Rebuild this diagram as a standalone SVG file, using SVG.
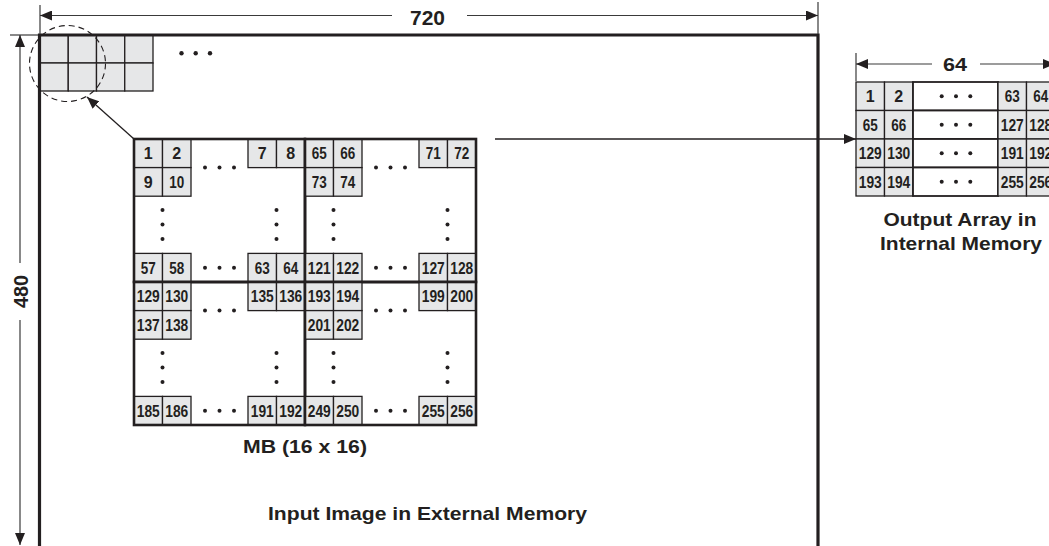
<svg xmlns="http://www.w3.org/2000/svg" xmlns:xlink="http://www.w3.org/1999/xlink" width="1049" height="546" viewBox="0 0 1049 546">
<style>
.c{fill:#e6e7e8;stroke:#231f20;stroke-width:1.3}
.w{fill:#ffffff;stroke:#231f20;stroke-width:1.8}
.q{fill:none;stroke:#231f20;stroke-width:2.6}
.frame{fill:none;stroke:#231f20;stroke-width:3.2}
.dim{fill:none;stroke:#3a3a3a;stroke-width:1.2}
.ln{fill:none;stroke:#231f20;stroke-width:1.3}
.d{fill:#231f20}
.n{font-family:"Liberation Sans",Arial,sans-serif;font-weight:bold;font-size:16px;fill:#231f20;text-anchor:middle}
.lbl{font-family:"Liberation Sans",Arial,sans-serif;font-weight:bold;font-size:19px;fill:#231f20;text-anchor:middle}
</style>
<defs>
<marker id="ah" viewBox="0 0 12 10" refX="12" refY="5" markerWidth="12" markerHeight="10" markerUnits="userSpaceOnUse" orient="auto">
<path d="M0,0 L12,5 L0,10 Z" fill="#231f20"/>
</marker>
<g id="qcells">
<rect class="c" x="0" y="0" width="28.5" height="28.6"/>
<rect class="c" x="28.5" y="0" width="28.5" height="28.6"/>
<rect class="c" x="114" y="0" width="28.5" height="28.6"/>
<rect class="c" x="142.5" y="0" width="28.5" height="28.6"/>
<rect class="c" x="0" y="28.6" width="28.5" height="28.6"/>
<rect class="c" x="28.5" y="28.6" width="28.5" height="28.6"/>
<rect class="c" x="0" y="114.4" width="28.5" height="28.6"/>
<rect class="c" x="28.5" y="114.4" width="28.5" height="28.6"/>
<rect class="c" x="114" y="114.4" width="28.5" height="28.6"/>
<rect class="c" x="142.5" y="114.4" width="28.5" height="28.6"/>
<rect class="q" x="0" y="0" width="171" height="143"/>
<circle class="d" cx="71" cy="28.6" r="2"/><circle class="d" cx="85.5" cy="28.6" r="2"/><circle class="d" cx="100" cy="28.6" r="2"/>
<circle class="d" cx="71" cy="128.7" r="2"/><circle class="d" cx="85.5" cy="128.7" r="2"/><circle class="d" cx="100" cy="128.7" r="2"/>
<circle class="d" cx="28.5" cy="71" r="2"/><circle class="d" cx="28.5" cy="85.5" r="2"/><circle class="d" cx="28.5" cy="100" r="2"/>
<circle class="d" cx="142.5" cy="71" r="2"/><circle class="d" cx="142.5" cy="85.5" r="2"/><circle class="d" cx="142.5" cy="100" r="2"/>
</g>
</defs>

<g id="input-image">
<rect class="c" x="40" y="35" width="28.25" height="28"/>
<rect class="c" x="68.25" y="35" width="28.25" height="28"/>
<rect class="c" x="96.5" y="35" width="28.25" height="28"/>
<rect class="c" x="124.75" y="35" width="28.25" height="28"/>
<rect class="c" x="40" y="63" width="28.25" height="28"/>
<rect class="c" x="68.25" y="63" width="28.25" height="28"/>
<rect class="c" x="96.5" y="63" width="28.25" height="28"/>
<rect class="c" x="124.75" y="63" width="28.25" height="28"/>
<path class="frame" d="M39.5,550 V35 H818 V550"/>
<circle class="d" cx="181.5" cy="53.3" r="2.2"/><circle class="d" cx="195.7" cy="53.3" r="2.2"/><circle class="d" cx="210" cy="53.3" r="2.2"/>
<circle cx="67.5" cy="63.5" r="38" fill="none" stroke="#231f20" stroke-width="1.1" stroke-dasharray="6,4"/>
<text class="lbl" x="427.5" y="520" textLength="319" lengthAdjust="spacingAndGlyphs">Input Image in External Memory</text>
</g>

<g id="mb">
<use xlink:href="#qcells" href="#qcells" transform="translate(134,139)"/>
<use xlink:href="#qcells" href="#qcells" transform="translate(305,139)"/>
<use xlink:href="#qcells" href="#qcells" transform="translate(134,282)"/>
<use xlink:href="#qcells" href="#qcells" transform="translate(305,282)"/>
<g class="n">
<text x="148.25" y="159">1</text><text x="176.75" y="159">2</text>
<text x="262.25" y="159">7</text><text x="290.75" y="159">8</text>
<text x="148.25" y="187.7">9</text><text x="176.75" y="187.7" textLength="15" lengthAdjust="spacingAndGlyphs">10</text>
<text x="148.25" y="273.5" textLength="15" lengthAdjust="spacingAndGlyphs">57</text><text x="176.75" y="273.5" textLength="15" lengthAdjust="spacingAndGlyphs">58</text>
<text x="262.25" y="273.5" textLength="15" lengthAdjust="spacingAndGlyphs">63</text><text x="290.75" y="273.5" textLength="15" lengthAdjust="spacingAndGlyphs">64</text>

<text x="319.25" y="159" textLength="15" lengthAdjust="spacingAndGlyphs">65</text><text x="347.75" y="159" textLength="15" lengthAdjust="spacingAndGlyphs">66</text>
<text x="433.25" y="159" textLength="15" lengthAdjust="spacingAndGlyphs">71</text><text x="461.75" y="159" textLength="15" lengthAdjust="spacingAndGlyphs">72</text>
<text x="319.25" y="187.7" textLength="15" lengthAdjust="spacingAndGlyphs">73</text><text x="347.75" y="187.7" textLength="15" lengthAdjust="spacingAndGlyphs">74</text>
<text x="319.25" y="273.5" textLength="23" lengthAdjust="spacingAndGlyphs">121</text><text x="347.75" y="273.5" textLength="23" lengthAdjust="spacingAndGlyphs">122</text>
<text x="433.25" y="273.5" textLength="23" lengthAdjust="spacingAndGlyphs">127</text><text x="461.75" y="273.5" textLength="23" lengthAdjust="spacingAndGlyphs">128</text>

<text x="148.25" y="302.1" textLength="23" lengthAdjust="spacingAndGlyphs">129</text><text x="176.75" y="302.1" textLength="23" lengthAdjust="spacingAndGlyphs">130</text>
<text x="262.25" y="302.1" textLength="23" lengthAdjust="spacingAndGlyphs">135</text><text x="290.75" y="302.1" textLength="23" lengthAdjust="spacingAndGlyphs">136</text>
<text x="148.25" y="330.7" textLength="23" lengthAdjust="spacingAndGlyphs">137</text><text x="176.75" y="330.7" textLength="23" lengthAdjust="spacingAndGlyphs">138</text>
<text x="148.25" y="416.5" textLength="23" lengthAdjust="spacingAndGlyphs">185</text><text x="176.75" y="416.5" textLength="23" lengthAdjust="spacingAndGlyphs">186</text>
<text x="262.25" y="416.5" textLength="23" lengthAdjust="spacingAndGlyphs">191</text><text x="290.75" y="416.5" textLength="23" lengthAdjust="spacingAndGlyphs">192</text>

<text x="319.25" y="302.1" textLength="23" lengthAdjust="spacingAndGlyphs">193</text><text x="347.75" y="302.1" textLength="23" lengthAdjust="spacingAndGlyphs">194</text>
<text x="433.25" y="302.1" textLength="23" lengthAdjust="spacingAndGlyphs">199</text><text x="461.75" y="302.1" textLength="23" lengthAdjust="spacingAndGlyphs">200</text>
<text x="319.25" y="330.7" textLength="23" lengthAdjust="spacingAndGlyphs">201</text><text x="347.75" y="330.7" textLength="23" lengthAdjust="spacingAndGlyphs">202</text>
<text x="319.25" y="416.5" textLength="23" lengthAdjust="spacingAndGlyphs">249</text><text x="347.75" y="416.5" textLength="23" lengthAdjust="spacingAndGlyphs">250</text>
<text x="433.25" y="416.5" textLength="23" lengthAdjust="spacingAndGlyphs">255</text><text x="461.75" y="416.5" textLength="23" lengthAdjust="spacingAndGlyphs">256</text>
</g>
<text class="lbl" x="305" y="452.5" textLength="124" lengthAdjust="spacingAndGlyphs">MB (16 x 16)</text>
</g>

<g id="output-array">
<rect class="c" x="856" y="82" width="28.5" height="28.5"/><rect class="c" x="884.5" y="82" width="28.5" height="28.5"/>
<rect class="w" x="913" y="82" width="85" height="28.5"/>
<rect class="c" x="998" y="82" width="28.5" height="28.5"/><rect class="c" x="1026.5" y="82" width="28.5" height="28.5"/>
<rect class="c" x="856" y="110.5" width="28.5" height="28.5"/><rect class="c" x="884.5" y="110.5" width="28.5" height="28.5"/>
<rect class="w" x="913" y="110.5" width="85" height="28.5"/>
<rect class="c" x="998" y="110.5" width="28.5" height="28.5"/><rect class="c" x="1026.5" y="110.5" width="28.5" height="28.5"/>
<rect class="c" x="856" y="139" width="28.5" height="28.5"/><rect class="c" x="884.5" y="139" width="28.5" height="28.5"/>
<rect class="w" x="913" y="139" width="85" height="28.5"/>
<rect class="c" x="998" y="139" width="28.5" height="28.5"/><rect class="c" x="1026.5" y="139" width="28.5" height="28.5"/>
<rect class="c" x="856" y="167.5" width="28.5" height="28.5"/><rect class="c" x="884.5" y="167.5" width="28.5" height="28.5"/>
<rect class="w" x="913" y="167.5" width="85" height="28.5"/>
<rect class="c" x="998" y="167.5" width="28.5" height="28.5"/><rect class="c" x="1026.5" y="167.5" width="28.5" height="28.5"/>
<g class="d">
<circle cx="941.7" cy="96.3" r="2"/><circle cx="956" cy="96.3" r="2"/><circle cx="970.3" cy="96.3" r="2"/>
<circle cx="941.7" cy="124.8" r="2"/><circle cx="956" cy="124.8" r="2"/><circle cx="970.3" cy="124.8" r="2"/>
<circle cx="941.7" cy="153.3" r="2"/><circle cx="956" cy="153.3" r="2"/><circle cx="970.3" cy="153.3" r="2"/>
<circle cx="941.7" cy="181.8" r="2"/><circle cx="956" cy="181.8" r="2"/><circle cx="970.3" cy="181.8" r="2"/>
</g>
<g class="n">
<text x="870.25" y="102">1</text><text x="898.75" y="102">2</text>
<text x="1012.25" y="102" textLength="15" lengthAdjust="spacingAndGlyphs">63</text><text x="1040.75" y="102" textLength="15" lengthAdjust="spacingAndGlyphs">64</text>
<text x="870.25" y="130.5" textLength="15" lengthAdjust="spacingAndGlyphs">65</text><text x="898.75" y="130.5" textLength="15" lengthAdjust="spacingAndGlyphs">66</text>
<text x="1012.25" y="130.5" textLength="23" lengthAdjust="spacingAndGlyphs">127</text><text x="1040.75" y="130.5" textLength="23" lengthAdjust="spacingAndGlyphs">128</text>
<text x="870.25" y="159" textLength="23" lengthAdjust="spacingAndGlyphs">129</text><text x="898.75" y="159" textLength="23" lengthAdjust="spacingAndGlyphs">130</text>
<text x="1012.25" y="159" textLength="23" lengthAdjust="spacingAndGlyphs">191</text><text x="1040.75" y="159" textLength="23" lengthAdjust="spacingAndGlyphs">192</text>
<text x="870.25" y="187.5" textLength="23" lengthAdjust="spacingAndGlyphs">193</text><text x="898.75" y="187.5" textLength="23" lengthAdjust="spacingAndGlyphs">194</text>
<text x="1012.25" y="187.5" textLength="23" lengthAdjust="spacingAndGlyphs">255</text><text x="1040.75" y="187.5" textLength="23" lengthAdjust="spacingAndGlyphs">256</text>
</g>
<text class="lbl" x="960" y="225.5" textLength="153" lengthAdjust="spacingAndGlyphs">Output Array in</text>
<text class="lbl" x="961" y="249.5" textLength="162" lengthAdjust="spacingAndGlyphs">Internal Memory</text>
</g>

<g id="dimensions">
<line class="dim" x1="40" y1="5" x2="40" y2="34"/>
<line class="dim" x1="818" y1="2" x2="818" y2="34"/>
<line class="dim" x1="392" y1="15.5" x2="40" y2="15.5" marker-end="url(#ah)"/>
<line class="dim" x1="467" y1="15.5" x2="818" y2="15.5" marker-end="url(#ah)"/>
<text class="lbl" x="427.5" y="25" font-size="21" style="font-size:21px" textLength="35" lengthAdjust="spacingAndGlyphs">720</text>
<line class="dim" x1="10" y1="35" x2="38" y2="35"/>
<line class="dim" x1="20" y1="263" x2="20" y2="35" marker-end="url(#ah)"/>
<line class="dim" x1="20" y1="320" x2="20" y2="545" marker-end="url(#ah)"/>
<text class="lbl" x="0" y="0" transform="translate(27.5,291.5) rotate(-90)" style="font-size:20px" textLength="33" lengthAdjust="spacingAndGlyphs">480</text>
<line class="dim" x1="856" y1="53" x2="856" y2="81"/>
<line class="dim" x1="932" y1="64" x2="856" y2="64" marker-end="url(#ah)"/>
<line class="dim" x1="980" y1="64" x2="1055" y2="64" marker-end="url(#ah)"/>
<text class="lbl" x="955" y="70.5" textLength="24" lengthAdjust="spacingAndGlyphs">64</text>
</g>

<g id="connectors">
<line class="ln" x1="134" y1="139" x2="87" y2="97" marker-end="url(#ah)"/>
<line class="ln" x1="495" y1="139" x2="856" y2="139" marker-end="url(#ah)"/>
</g>
</svg>
